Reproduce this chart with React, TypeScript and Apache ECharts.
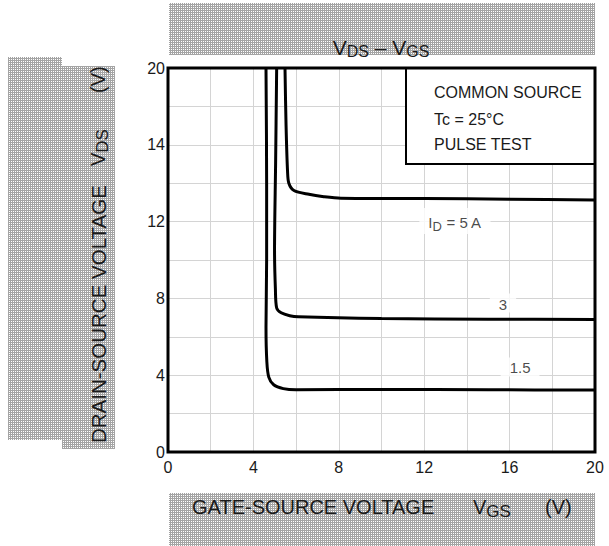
import React, { useEffect, useRef } from "react";
import * as echarts from "echarts";

// ---- Data ----
const curveNames = ["5 A", "3 A", "1.5 A"];
const curve5A: number[][] = [
  [5.48, 20], [5.53, 17], [5.6, 14.6], [5.66, 14.0], [5.9, 13.62], [6.6, 13.42], [7.3, 13.3], [8.1, 13.22], [12, 13.2], [16, 13.17], [20, 13.12],
];
const curve3A: number[][] = [
  [5.09, 20], [5.04, 15], [4.99, 10.5], [5.03, 8.5], [5.09, 7.5], [5.3, 7.25], [5.7, 7.1], [6.1, 7.04], [10, 6.95], [15, 6.92], [20, 6.9],
];
const curve15A: number[][] = [
  [4.59, 20], [4.62, 14], [4.62, 10], [4.59, 6.5], [4.63, 4.7], [4.72, 3.9], [4.95, 3.5], [5.4, 3.3], [6.0, 3.24], [10, 3.26], [15, 3.24], [20, 3.23],
];
const yTickValues = [0, 4, 8, 12, 16, 20];
const yTickLabels = ["0", "4", "8", "12", "14", "20"];
const xTickValues = [0, 4, 8, 12, 16, 20];
const xTickLabels = ["0", "4", "8", "12", "16", "20"];
const curveLabelTexts = ["{n|I}{s|D}{n| = 5 A}", "{n|3}", "{n|1.5}"];
const curveLabelX = [13.44, 15.69, 16.49];
const curveLabelY = [12.03, 7.76, 4.43];
const conditionLines = ["COMMON SOURCE", "Tc = 25°C", "PULSE TEST"];

const FONT = "'Liberation Sans', Arial, Helvetica, sans-serif";

function hatchURL(): string {
  const c = document.createElement("canvas");
  c.width = 4;
  c.height = 4;
  const ctx = c.getContext("2d");
  if (!ctx) return "";
  ctx.fillStyle = "#ffffff";
  ctx.fillRect(0, 0, 4, 4);
  ctx.fillStyle = "#a4a4a4";
  ctx.fillRect(0, 0, 1, 4);
  ctx.fillRect(2, 0, 1, 4);
  ctx.fillRect(0, 0, 4, 1);
  ctx.fillRect(0, 2, 4, 1);
  return c.toDataURL();
}

export default function App() {
  const ref = useRef<HTMLDivElement>(null);
  useEffect(() => {
    document.body.style.margin = "0";
    if (!ref.current) return;
    const chart = echarts.init(ref.current, undefined, { renderer: "svg" });
    const url = hatchURL();
    const hatch: any = url
      ? { image: url, repeat: "repeat", imageWidth: 4, imageHeight: 4 }
      : "#d0d0d0";

    const lineSeries = [curve5A, curve3A, curve15A].map((d, i) => ({
      name: curveNames[i],
      type: "line",
      data: d,
      showSymbol: false,
      smooth: 0.3,
      smoothMonotone: "none",
      lineStyle: { color: "#000", width: 3 },
      z: 3,
    }));

    const labelData = curveLabelTexts.map((t, i) => [curveLabelX[i], curveLabelY[i]]);

    chart.setOption({
      animation: false,
      backgroundColor: "#fff",
      grid: {
        left: 168,
        top: 68,
        width: 427,
        height: 384,
        show: false,
      },
      xAxis: {
        type: "value",
        min: 0,
        max: 20,
        interval: 2,
        axisLine: { show: false },
        axisTick: { show: false },
        splitLine: { lineStyle: { color: "#d4d4d4", width: 1 } },
        axisLabel: {
          margin: 7,
          fontSize: 16,
          fontFamily: FONT,
          color: "#1a1a1a",
          formatter: (v: number) => {
            const k = xTickValues.indexOf(v);
            return k >= 0 ? xTickLabels[k] : "";
          },
        },
      },
      yAxis: {
        type: "value",
        min: 0,
        max: 20,
        interval: 2,
        axisLine: { show: false },
        axisTick: { show: false },
        splitLine: { lineStyle: { color: "#d4d4d4", width: 1 } },
        axisLabel: {
          margin: 3,
          fontSize: 16,
          fontFamily: FONT,
          color: "#1a1a1a",
          formatter: (v: number) => {
            const k = yTickValues.indexOf(v);
            return k >= 0 ? yTickLabels[k] : "";
          },
        },
      },
      series: [
        ...lineSeries,
        {
          type: "scatter",
          data: labelData,
          symbolSize: 1,
          itemStyle: { color: "rgba(0,0,0,0)" },
          z: 4,
          label: {
            show: true,
            position: "inside",
            backgroundColor: "#fff",
            padding: [3, 9, 1, 9],
            color: "#1a1a1a",
            fontSize: 15,
            fontFamily: FONT,
            formatter: (p: any) => curveLabelTexts[p.dataIndex],
            rich: {
              n: { fontSize: 15, fontFamily: FONT, color: "#1a1a1a" },
              s: { fontSize: 13, fontFamily: FONT, color: "#1a1a1a", padding: [9, 0, 0, 0] },
            },
          },
        },
      ],
      graphic: [
        // hatched title boxes
        { type: "rect", shape: { x: 169, y: 3, width: 426, height: 52 }, style: { fill: hatch }, z: 0, silent: true },
        { type: "rect", shape: { x: 169, y: 493, width: 426, height: 53 }, style: { fill: hatch }, z: 0, silent: true },
        { type: "rect", shape: { x: 8, y: 57, width: 54, height: 383 }, style: { fill: hatch }, z: 0, silent: true },
        { type: "rect", shape: { x: 62, y: 66, width: 53, height: 383 }, style: { fill: hatch }, z: 0, silent: true },
        // title
        {
          type: "text",
          x: 381,
          y: 47,
          z: 5,
          style: {
            text: "{v|V}{s|DS}{v| – V}{s|GS}",
            align: "center",
            verticalAlign: "middle",
            rich: {
              v: { fontSize: 21, fontFamily: FONT, fill: "#1a1a1a" },
              s: { fontSize: 16, fontFamily: FONT, fill: "#1a1a1a", padding: [8, 0, 0, 0] },
            },
          },
        },
        // x-axis name
        {
          type: "text", x: 192, y: 507, z: 5,
          style: { text: "GATE-SOURCE VOLTAGE", align: "left", verticalAlign: "middle", fontSize: 20, fontFamily: FONT, fill: "#1a1a1a" },
        },
        {
          type: "text", x: 473, y: 507, z: 5,
          style: {
            text: "{v|V}{s|GS}", align: "left", verticalAlign: "middle",
            rich: {
              v: { fontSize: 20, fontFamily: FONT, fill: "#1a1a1a" },
              s: { fontSize: 17, fontFamily: FONT, fill: "#1a1a1a", padding: [9, 0, 0, 0] },
            },
          },
        },
        {
          type: "text", x: 545, y: 507, z: 5,
          style: { text: "(V)", align: "left", verticalAlign: "middle", fontSize: 20, fontFamily: FONT, fill: "#1a1a1a" },
        },
        // y-axis name (rotated)
        {
          type: "text", x: 98, y: 443, rotation: Math.PI / 2, z: 5,
          style: { text: "DRAIN-SOURCE VOLTAGE", align: "left", verticalAlign: "middle", fontSize: 20.5, fontFamily: FONT, fill: "#1a1a1a" },
        },
        {
          type: "text", x: 98, y: 166, rotation: Math.PI / 2, z: 5,
          style: {
            text: "{v|V}{s|DS}", align: "left", verticalAlign: "middle",
            rich: {
              v: { fontSize: 20, fontFamily: FONT, fill: "#1a1a1a" },
              s: { fontSize: 17, fontFamily: FONT, fill: "#1a1a1a", padding: [9, 0, 0, 0] },
            },
          },
        },
        {
          type: "text", x: 98, y: 93, rotation: Math.PI / 2, z: 5,
          style: { text: "(V)", align: "left", verticalAlign: "middle", fontSize: 20, fontFamily: FONT, fill: "#1a1a1a" },
        },
        // condition box
        {
          type: "rect", z: 6,
          shape: { x: 406, y: 68, width: 189, height: 96 },
          style: { fill: "#fff", stroke: "#000", lineWidth: 2 },
        },
        ...conditionLines.map((t, i) => ({
          type: "text", z: 7,
          x: 434,
          y: [92.5, 119.5, 144][i],
          style: { text: t, align: "left", verticalAlign: "middle", fontSize: 16, fontFamily: FONT, fill: "#1a1a1a" },
        })),
        // plot frame
        {
          type: "rect", z: 8, silent: true,
          shape: { x: 168, y: 68, width: 427, height: 384 },
          style: { fill: "none", stroke: "#000", lineWidth: 3 },
        },
      ],
    });
    return () => chart.dispose();
  }, []);
  return <div ref={ref} style={{ width: 609, height: 546 }} />;
}
